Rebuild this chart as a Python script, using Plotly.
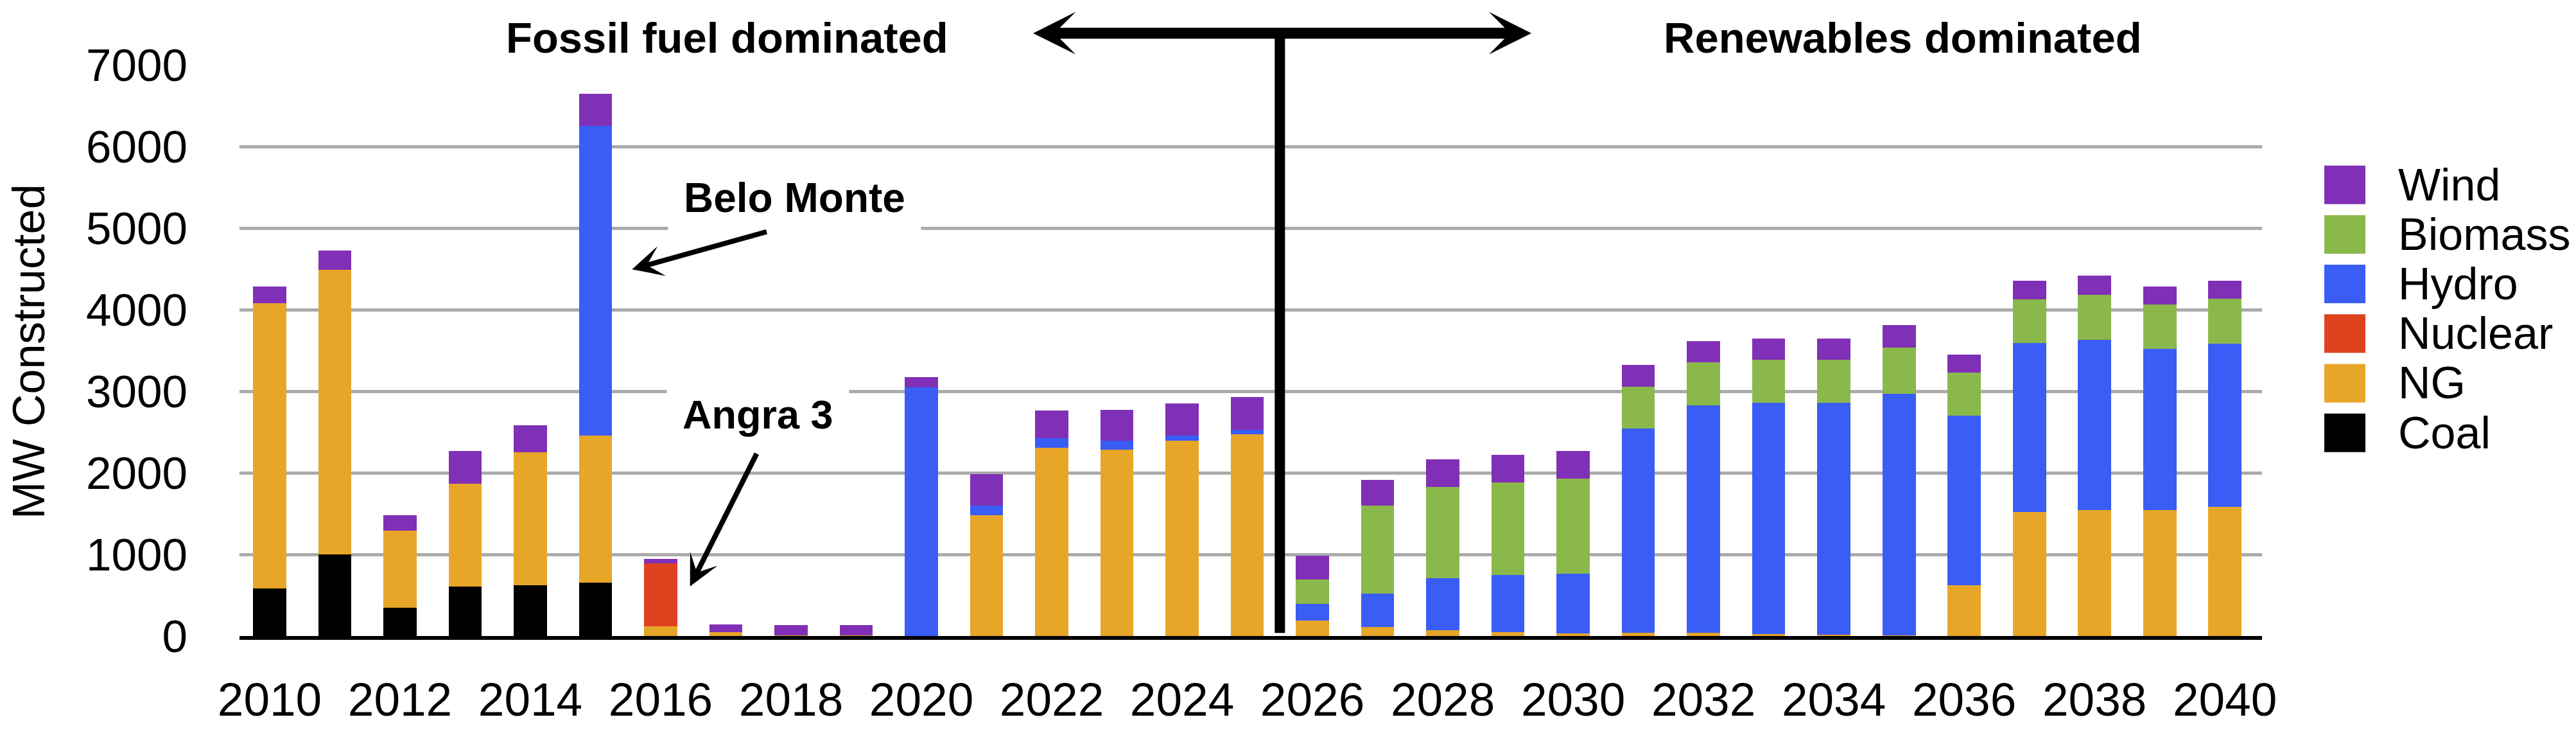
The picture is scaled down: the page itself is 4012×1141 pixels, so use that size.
import plotly.graph_objects as go

# ---------------- data ----------------
years = [2010, 2011, 2012, 2013, 2014, 2015, 2016, 2017, 2018, 2019, 2020,
         2021, 2022, 2023, 2024, 2025, 2026, 2027, 2028, 2029, 2030,
         2031, 2032, 2033, 2034, 2035, 2036, 2037, 2038, 2039, 2040]

coal = [580, 1000, 350, 610, 620, 650, 0, 0, 0, 0, 0,
        0, 0, 0, 0, 0, 0, 0, 0, 0, 0,
        0, 0, 0, 0, 0, 0, 0, 0, 0, 0]
ng = [3500, 3490, 940, 1260, 1630, 1805, 120, 50, 10, 10, 0,
      1480, 2305, 2280, 2390, 2470, 190, 110, 70, 45, 30,
      40, 40, 20, 15, 10, 620, 1520, 1545, 1545, 1585]
nuclear = [0, 0, 0, 0, 0, 0, 770, 0, 0, 0, 0,
           0, 0, 0, 0, 0, 0, 0, 0, 0, 0,
           0, 0, 0, 0, 0, 0, 0, 0, 0, 0]
hydro = [0, 0, 0, 0, 0, 3795, 0, 0, 0, 0, 3050,
         120, 123, 110, 70, 55, 200, 412, 636, 700, 731,
         2505, 2784, 2837, 2842, 2957, 2080, 2073, 2087, 1971, 1997]
biomass = [0, 0, 0, 0, 0, 0, 0, 0, 0, 0, 0,
           0, 0, 0, 0, 0, 300, 1080, 1124, 1140, 1165,
           510, 533, 528, 528, 566, 525, 533, 549, 544, 550]
wind = [200, 232, 194, 398, 331, 393, 54, 89, 120, 120, 123,
        383, 339, 378, 389, 405, 295, 315, 335, 336, 343,
        264, 258, 263, 263, 275, 225, 231, 236, 220, 225]

series_names = ["Coal", "NG", "Nuclear", "Hydro", "Biomass", "Wind"]
series_values = [coal, ng, nuclear, hydro, biomass, wind]
series_colors = ["#000000", "#E8A628", "#DF421F", "#3A5DF6", "#8BB84B", "#8030B6"]

x_ticks = [2010, 2012, 2014, 2016, 2018, 2020, 2022, 2024, 2026, 2028, 2030,
           2032, 2034, 2036, 2038, 2040]
y_ticks = [0, 1000, 2000, 3000, 4000, 5000, 6000, 7000]

FONT = "Liberation Sans, Arial, Helvetica, sans-serif"

# ---------------- figure ----------------
W, H = 4012, 1141
L, R, T, B = 373, 3523, 101, 1020  # plot area in pixels


def py(px):
    """pixel row -> paper y"""
    return (B - px) / (B - T)


def pxr(px):
    """pixel column -> paper x"""
    return (px - L) / (R - L)


fig = go.Figure()
for name, vals, col in zip(series_names, series_values, series_colors):
    fig.add_trace(go.Bar(x=years, y=vals, name=name, marker_color=col,
                         marker_line_width=0, width=0.51, showlegend=False))

fig.update_layout(
    width=W, height=H,
    margin=dict(l=L, r=W - R, t=T, b=H - B, pad=0),
    barmode="stack",
    plot_bgcolor="white", paper_bgcolor="white",
    font=dict(family=FONT, size=72, color="black"),
    showlegend=False,
)
fig.update_xaxes(range=[2009.537, 2040.57], tickmode="array", tickvals=x_ticks,
                 ticktext=[str(v) for v in x_ticks], showgrid=False,
                 showline=True, linecolor="black", linewidth=6, ticks="",
                 ticklabelstandoff=30, tickfont=dict(size=73), zeroline=False)
fig.update_yaxes(range=[0, 7000], tickmode="array", tickvals=y_ticks,
                 showgrid=True, gridcolor="#ABABAB", gridwidth=5, zeroline=False,
                 showline=False, ticks="", ticklabelstandoff=80,
                 tickfont=dict(size=71))

# divider line
fig.add_shape(type="line", xref="x", yref="paper", x0=2025.5, x1=2025.5,
              y0=py(1015), y1=py(50),
              line=dict(color="black", width=16))

ann = []
# y axis title
ann.append(dict(text="MW Constructed", xref="paper", yref="paper",
                x=pxr(45), y=py(563), textangle=-90,
                showarrow=False, font=dict(size=70), xanchor="center", yanchor="middle"))
# region labels
ann.append(dict(text="Fossil fuel dominated", x=2017.02, y=py(57), xref="x", yref="paper",
                showarrow=False, font=dict(size=67, weight="bold"),
                xanchor="center", yanchor="middle"))
ann.append(dict(text="Renewables dominated", x=2035.06, y=py(57), xref="x", yref="paper",
                showarrow=False, font=dict(size=67, weight="bold"),
                xanchor="center", yanchor="middle"))
# double arrow (tip at right, tail at left, heads at both ends)
ann.append(dict(text="", x=2029.36, y=py(50), xref="x", yref="paper",
                ax=2021.70, ay=0, axref="x", ayref="pixel",
                showarrow=True, arrowside="end+start",
                arrowhead=3, startarrowhead=3, arrowwidth=17, arrowsize=0.65,
                startarrowsize=0.65, arrowcolor="black"))
# callouts
ann.append(dict(text="Belo Monte", x=2018.05, y=5370, xref="x", yref="y",
                showarrow=False, bgcolor="white", borderpad=24,
                font=dict(size=64, weight="bold")))
ann.append(dict(text="Angra 3", x=2017.49, y=2719, xref="x", yref="y",
                showarrow=False, bgcolor="white", borderpad=24,
                font=dict(size=63, weight="bold")))
ann.append(dict(text="", x=2015.56, y=4494, ax=2017.64, ay=4958, xref="x", yref="y",
                axref="x", ayref="y", showarrow=True, arrowhead=3, arrowwidth=8,
                arrowsize=1, arrowcolor="black"))
ann.append(dict(text="", x=2016.45, y=609, ax=2017.48, ay=2247, xref="x", yref="y",
                axref="x", ayref="y", showarrow=True, arrowhead=3, arrowwidth=8,
                arrowsize=1, arrowcolor="black"))

# custom legend (top to bottom: reversed stack order)
leg_names = series_names[::-1]
leg_colors = series_colors[::-1]
sq_x0, sq_x1, txt_x = 3620, 3684, 3733
row0, pitch, half = 294, 79.8, 31
for i, (n, c) in enumerate(zip(leg_names, leg_colors)):
    cy = row0 + i * pitch
    fig.add_shape(type="rect", xref="paper", yref="paper",
                  x0=pxr(sq_x0), x1=pxr(sq_x1),
                  y0=py(cy + half), y1=py(cy - half),
                  fillcolor=c, line=dict(width=0))
    ann.append(dict(text=n, xref="paper", yref="paper", x=pxr(txt_x),
                    y=py(cy), xanchor="left", yanchor="middle",
                    showarrow=False, font=dict(size=70)))

fig.update_layout(annotations=ann)

fig.write_html("out.html", config={"displayModeBar": False},
               post_script="document.body.style.margin='0';")
